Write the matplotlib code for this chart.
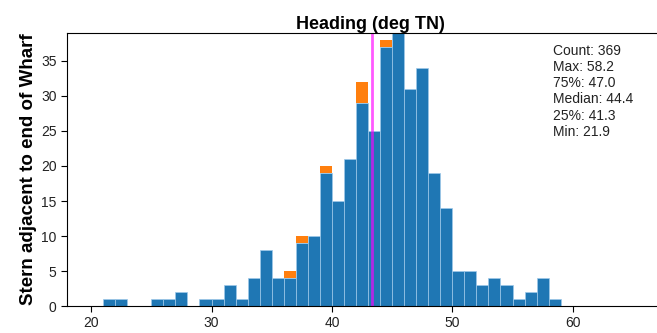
import matplotlib
matplotlib.use('Agg')
import matplotlib.pyplot as plt

plt.rcParams['font.family'] = ['Liberation Sans', 'DejaVu Sans']

# histogram bins (left edges, width 1 deg)
bin_left = list(range(21, 59))
# counts for the main group (blue) and the stacked group (orange)
counts_blue = [1, 1, 0, 0, 1, 1, 2, 0, 1, 1, 3, 1, 4, 8, 4, 4, 9, 10, 19,
               15, 21, 29, 25, 37, 39, 31, 34, 19, 14, 5, 5, 3, 4, 3, 1, 2, 4, 1]
counts_orange = [0, 0, 0, 0, 0, 0, 0, 0, 0, 0, 0, 0, 0, 0, 0, 1, 1, 0, 1,
                 0, 0, 3, 0, 1, 0, 0, 0, 0, 0, 0, 0, 0, 0, 0, 0, 0, 0, 0]
mean_line = 43.3
stats_text = "Count: 369\nMax: 58.2\n75%: 47.0\nMedian: 44.4\n25%: 41.3\nMin: 21.9"


def plot_histogram():
    fig = plt.figure(figsize=(6.57, 3.33), dpi=100)
    ax = fig.add_axes([0.102, 0.081, 0.898, 0.820])

    ax.bar(bin_left, counts_blue, width=1, align='edge', color='#1f77b4',
           edgecolor='#9ec9ea', linewidth=0.5)
    ax.bar(bin_left, counts_orange, width=1, align='edge', bottom=counts_blue,
           color='#ff7f0e', edgecolor='none')
    ax.axvline(mean_line, color='magenta', linewidth=2, alpha=0.65)

    ax.set_xlim(18, 67)
    ax.set_ylim(0, 39)
    ax.set_xticks([20, 30, 40, 50, 60])
    ax.set_yticks([0, 5, 10, 15, 20, 25, 30, 35])
    ax.tick_params(labelsize=10, labelcolor='#222222', length=4)
    ax.spines['right'].set_visible(False)

    ax.set_title('Heading (deg TN)', fontsize=13, fontweight='bold', pad=2,
                 x=0.514)
    ax.set_ylabel('Stern adjacent to end of Wharf', fontsize=13.5,
                  fontweight='bold', labelpad=3)
    ax.text(0.824, 0.96, stats_text, transform=ax.transAxes, fontsize=10,
            va='top', ha='left', color='#222222', linespacing=1.2)

    fig.savefig('out.png', dpi=100)


if __name__ == "__main__":
    plot_histogram()
